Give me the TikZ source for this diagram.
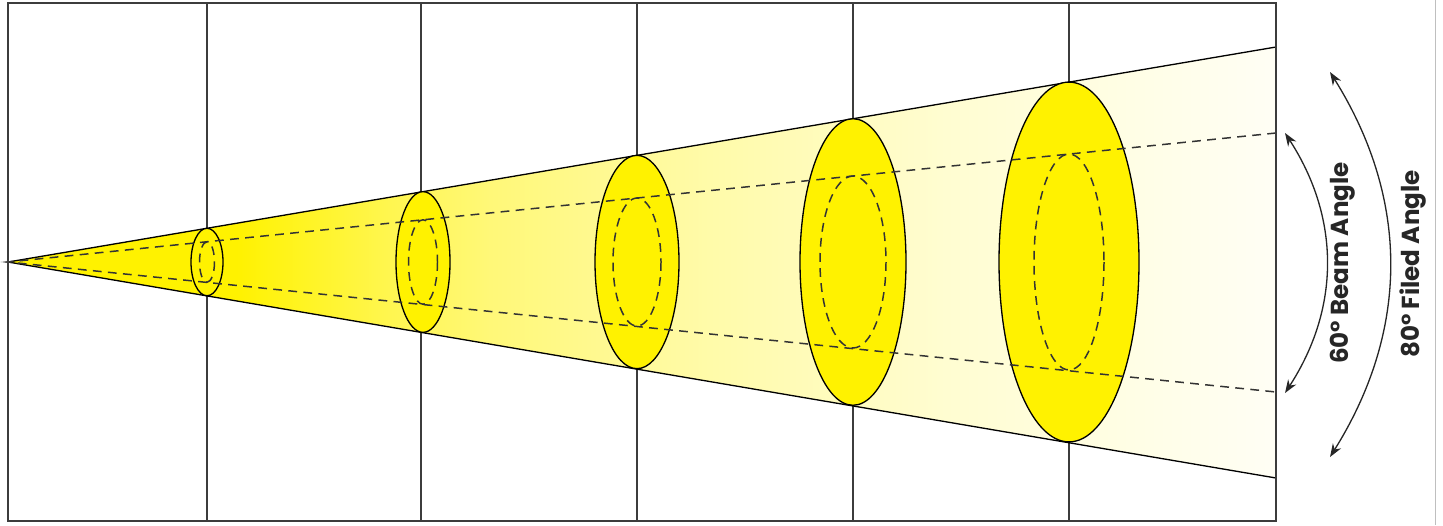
\documentclass[tikz,border=0pt]{standalone}
\usepackage{fontspec}
\setmainfont{Poppins}
\usepackage{xcolor}
\usetikzlibrary{arrows.meta}
\definecolor{lamp}{HTML}{FFF200}
\definecolor{gridcol}{HTML}{3C3C3C}
\definecolor{dashcol}{HTML}{333333}
\colorlet{fadeA}{lamp!69!white}
\colorlet{fadeB}{lamp!53!white}
\colorlet{fadeC}{lamp!34!white}
\colorlet{fadeD}{lamp!18!white}
\colorlet{fadeE}{lamp!4!white}
\pgfdeclarehorizontalshading{conefade}{100bp}{color(0bp)=(lamp); color(34bp)=(lamp); color(40bp)=(fadeA); color(44bp)=(fadeB); color(52.5bp)=(fadeC); color(62bp)=(fadeD); color(75bp)=(fadeE); color(100bp)=(fadeE)}

\begin{document}
\begin{tikzpicture}[x=0.02cm,y=-0.02cm,>={Stealth[length=7.5pt,width=5.5pt]},
  frame/.style={draw=gridcol,line width=1.3pt},
  gline/.style={draw=gridcol,line width=0.8pt},
  edge/.style={draw=black,line width=0.75pt},
  beam/.style={draw=dashcol,line width=0.85pt,dash pattern=on 5pt off 3.6pt},
  spot/.style={draw=black,line width=0.75pt,fill=lamp},
  angarrow/.style={<->,draw=black!85,line width=0.75pt},
  lbl/.style={font=\bfseries\fontsize{14}{16}\selectfont,text=black!85,rotate=90}]
\useasboundingbox (0,0) rectangle (1443,525);
\coordinate (apex) at (8,262);
\coordinate (ot) at (1276,47); \coordinate (ob) at (1276,478);
\coordinate (it) at (1276,133); \coordinate (ib) at (1276,392);
% grid
\foreach \x in {207,421,637,853,1069} \draw[gline] (\x,3) -- (\x,521);
% light cone
\shade[shading=conefade] (apex) -- (ot) -- (ob) -- cycle;
\draw[edge] (ot) -- (apex) -- (ob);
% spots
\foreach \x/\rx/\irx in {207/16/7.5,423/27/14.5,637/42/24,853/53/33,1069/70/35}{
  \pgfmathsetmacro\ry{0.16956*(\x-8)}
  \draw[spot] (\x,262) ellipse [x radius=\rx, y radius=\ry];
  \draw[beam] (\x,262) ellipse [x radius=\irx, y radius=0.6*\ry];
}
\draw[beam] (it) -- (apex) -- (ib) -- cycle;
\draw[frame] (8,3) rectangle (1276,521);
\draw[black!25,line width=0.5pt] (1435,0) -- (1435,525);
% angles
\coordinate (bt) at (1285,133); \coordinate (bb) at (1285,393);
\coordinate (ft) at (1330,72); \coordinate (fb) at (1330,457);
\draw[angarrow] (bt) to[bend left=33] (bb);
\draw[angarrow] (ft) to[bend left=32] (fb);
\node[lbl] (beamlbl) at (1343,263) {60° Beam Angle};
\node[lbl] (filedlbl) at (1413,264) {80° Filed Angle};
\end{tikzpicture}
\end{document}
